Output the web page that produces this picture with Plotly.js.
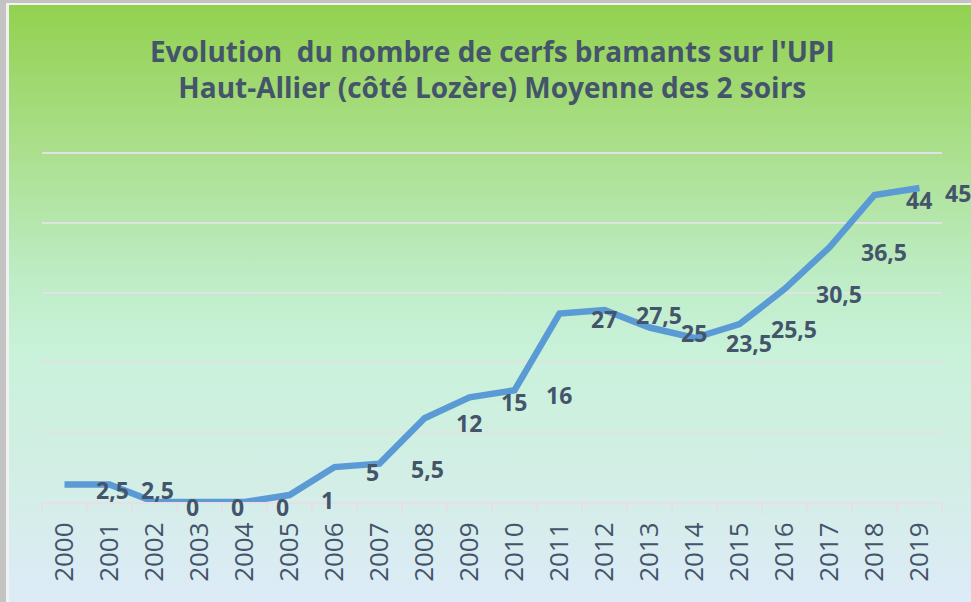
<!DOCTYPE html>
<html>
<head>
<meta charset="utf-8">
<script src="https://cdn.plot.ly/plotly-3.0.1.min.js"></script>
<style>
  html, body { margin:0; padding:0; width:971px; height:602px; overflow:hidden; background:#c3c3c3; }
  #frame { position:absolute; left:6px; top:3px; width:965px; height:599px; background:#f2f2f2; }
  #chart { position:absolute; left:9px; top:5px; width:962px; height:597px;
    background: linear-gradient(to bottom, #92d14f 0%, #a9de87 22%, #bdecc4 45%, #c9f2da 58%, #d3eee6 80%, #ddebf8 100%); }
  #plot { position:absolute; left:0; top:0; width:971px; height:602px; }
</style>
</head>
<body>
<div id="frame"></div>
<div id="chart"></div>
<div id="plot"></div>
<script>
const years = ["2000","2001","2002","2003","2004","2005","2006","2007","2008","2009",
               "2010","2011","2012","2013","2014","2015","2016","2017","2018","2019"];
const values = [2.5, 2.5, 0, 0, 0, 1, 5, 5.5, 12, 15, 16, 27, 27.5, 25, 23.5, 25.5, 30.5, 36.5, 44, 45];
const labels = values.map(v => String(v).replace('.', ','));

const slate = '#44546a';

const trace = {
  x: years, y: values, type: 'scatter', mode: 'lines',
  line: { color: '#5b9bd5', width: 6.5 },
  hoverinfo: 'skip', cliponaxis: false
};

// category axis: annotations positioned by category index
const annotations = years.map((yr, i) => ({
  x: i, y: values[i], xref: 'x', yref: 'y',
  text: '<b>' + labels[i] + '</b>', showarrow: false,
  xanchor: 'left', yanchor: 'middle',
  xshift: i === years.length - 1 ? 23 : 29, yshift: -5,
  font: { family: 'Open Sans', size: 23, color: slate }
}));

const layout = {
  width: 971, height: 602,
  paper_bgcolor: 'rgba(0,0,0,0)', plot_bgcolor: 'rgba(0,0,0,0)',
  margin: { l: 42, r: 29, t: 152, b: 100 },
  showlegend: false,
  title: {
    text: "<b>Evolution  du nombre de cerfs bramants sur l'UPI<br>Haut-Allier (côté Lozère) Moyenne des 2 soirs</b>",
    font: { family: 'Open Sans', size: 28, color: slate },
    x: 0.507, xanchor: 'center', y: 0.897, yanchor: 'top', yref: 'container'
  },
  xaxis: {
    type: 'category', range: [-0.5, 19.5],
    showgrid: false, zeroline: false,
    showline: true, linecolor: '#e4e0e6', linewidth: 2,
    ticks: 'outside', tickson: 'boundaries', ticklen: 9, tickcolor: '#e4e0e6', tickwidth: 2,
    tickangle: -90, ticklabelstandoff: 8,
    tickfont: { family: 'Open Sans', size: 26, color: slate },
    fixedrange: true
  },
  yaxis: {
    range: [0, 50.15], dtick: 10, tick0: 0,
    showgrid: true, gridcolor: '#dfe3e4', gridwidth: 2,
    zeroline: false, showticklabels: false, showline: false, ticks: '',
    fixedrange: true
  },
  annotations: annotations
};

Plotly.newPlot('plot', [trace], layout, { displayModeBar: false, staticPlot: true });
</script>
</body>
</html>
